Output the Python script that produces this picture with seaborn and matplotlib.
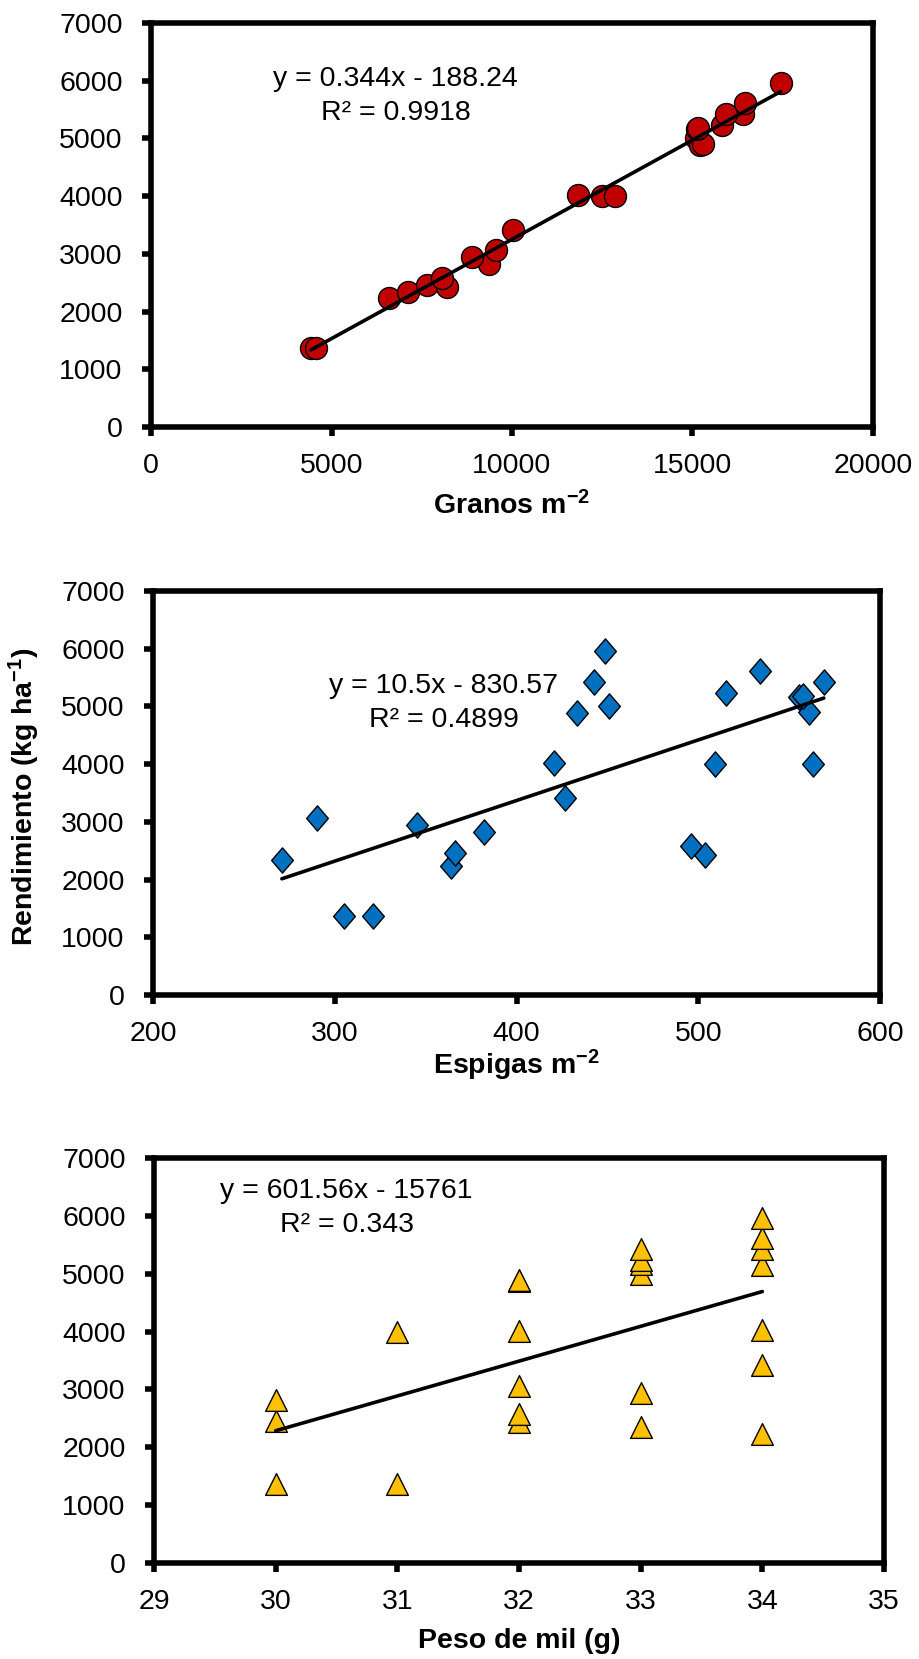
import matplotlib
matplotlib.use("Agg")
import matplotlib.pyplot as plt
from matplotlib.path import Path
import numpy as np
import pandas as pd
import seaborn as sns

# Grain yield of each plot (kg/ha), shared by the three panels
rendimiento = [1362, 1362, 2231, 2346, 2462, 2433, 2578, 2816, 2943, 3059, 3418, 4027,
               3998, 4003, 5000, 4878, 4896, 5156, 5174, 5232, 5423, 5429, 5620, 5956]
# Yield components of the same plots
granos = [4433, 4563, 6584, 7106, 7640, 8188, 8070, 9374, 8879, 9544, 10026, 11825,
          12490, 12855, 15098, 15202, 15293, 15137, 15160, 15815, 16402, 15919, 16467, 17445]
espigas = [305.2, 321.0, 364.2, 270.9, 366.2, 503.9, 495.8, 382.3, 345.2, 290.1, 426.8, 420.5,
           509.1, 563.4, 450.9, 433.5, 561.0, 555.3, 557.9, 515.1, 442.6, 569.1, 534.0, 448.8]
peso_mil = [30, 31, 34, 33, 30, 32, 32, 30, 33, 32, 34, 34,
            31, 32, 33, 32, 32, 34, 33, 33, 34, 33, 34, 34]

# Linear trend lines: slope, intercept and R²
pendientes = [0.344, 10.5, 601.56]
interceptos = [-188.24, -830.57, -15761]
r2 = [0.9918, 0.4899, 0.343]

x_ticks = [[0, 5000, 10000, 15000, 20000], [200, 300, 400, 500, 600], [29, 30, 31, 32, 33, 34, 35]]
y_ticks = [0, 1000, 2000, 3000, 4000, 5000, 6000, 7000]
x_labels = [r"Granos m$^{\mathbf{-2}}$", r"Espigas m$^{\mathbf{-2}}$", "Peso de mil (g)"]
y_label = r"Rendimiento (kg ha$^{\mathbf{-1}}$)"

sns.set_theme(style="ticks")
plt.rcParams["font.family"] = ["Liberation Sans", "DejaVu Sans"]
plt.rcParams["mathtext.fontset"] = "custom"
plt.rcParams["mathtext.rm"] = "Liberation Sans"
plt.rcParams["mathtext.bf"] = "Liberation Sans:bold"
plt.rcParams["mathtext.it"] = "Liberation Sans:italic"

W, H = 919, 1659
fig = plt.figure(figsize=(W / 100, H / 100), dpi=100)
fig.patch.set_facecolor("white")

# axes boxes in pixels: left, right, top, bottom
boxes = [(151, 873, 23, 427), (153, 880, 591, 995), (154, 884, 1158, 1563)]

diamante = Path([(0, 1), (0.86, 0), (0, -1), (-0.86, 0), (0, 1)],
                [Path.MOVETO, Path.LINETO, Path.LINETO, Path.LINETO, Path.CLOSEPOLY])

series = [
    dict(x=granos, marker="o", s=250, color="#C00000"),
    dict(x=espigas, marker=diamante, s=330, color="#0070C0"),
    dict(x=peso_mil, marker="^", s=245, color="#FFC000"),
]

# equation text positions (axes fraction): x centre, baseline of line 1, baseline of line 2
eq_pos = [(0.339, 0.844, 0.760), (0.400, 0.748, 0.663), (0.264, 0.901, 0.817)]
xlabel_y = [-0.2153, -0.197, -0.2099]

FS = 20.5

for i, (l, r, t, b) in enumerate(boxes):
    ax = fig.add_axes([l / W, 1 - b / H, (r - l) / W, (b - t) / H])
    ax.set_facecolor("white")
    cfg = series[i]
    df = pd.DataFrame({"x": cfg["x"], "y": rendimiento})
    sns.scatterplot(data=df, x="x", y="y", marker=cfg["marker"], s=cfg["s"],
                    color=cfg["color"], edgecolor="black", linewidth=1.0,
                    ax=ax, zorder=2, legend=False)

    m, c = pendientes[i], interceptos[i]
    xs = np.array([min(cfg["x"]), max(cfg["x"])])
    trend = pd.DataFrame({"x": xs, "y": m * xs + c})
    sns.lineplot(data=trend, x="x", y="y", color="black", linewidth=2.6,
                 ax=ax, zorder=3, legend=False)

    ax.set_xlim(x_ticks[i][0], x_ticks[i][-1])
    ax.set_ylim(0, 7000)
    ax.set_xticks(x_ticks[i])
    ax.set_yticks(y_ticks)
    ax.set_xticklabels([str(v) for v in x_ticks[i]])
    ax.set_yticklabels([str(v) for v in y_ticks])

    for sp in ax.spines.values():
        sp.set_visible(True)
        sp.set_color("black")
        sp.set_linewidth(4)
    ax.tick_params(axis="both", direction="out", length=6.5, width=4,
                   colors="black", labelsize=FS)
    ax.tick_params(axis="x", pad=12.5)
    ax.tick_params(axis="y", pad=14)
    ax.grid(False)

    ax.set_xlabel(x_labels[i], fontsize=FS, fontweight="bold", color="black")
    ax.xaxis.label.set_va("baseline")
    ax.xaxis.set_label_coords(0.5, xlabel_y[i])
    if i == 1:
        ax.set_ylabel(y_label, fontsize=FS, fontweight="bold", color="black")
        ax.yaxis.set_label_coords(-0.1527, 0.49)
    else:
        ax.set_ylabel("")

    xc, y1, y2 = eq_pos[i]
    ax.text(xc, y1, f"y = {m:g}x - {abs(c):g}", transform=ax.transAxes,
            ha="center", va="baseline", fontsize=FS, color="black")
    ax.text(xc, y2, f"R² = {r2[i]:g}", transform=ax.transAxes,
            ha="center", va="baseline", fontsize=FS, color="black")

fig.savefig("out.png", dpi=100, facecolor="white")
